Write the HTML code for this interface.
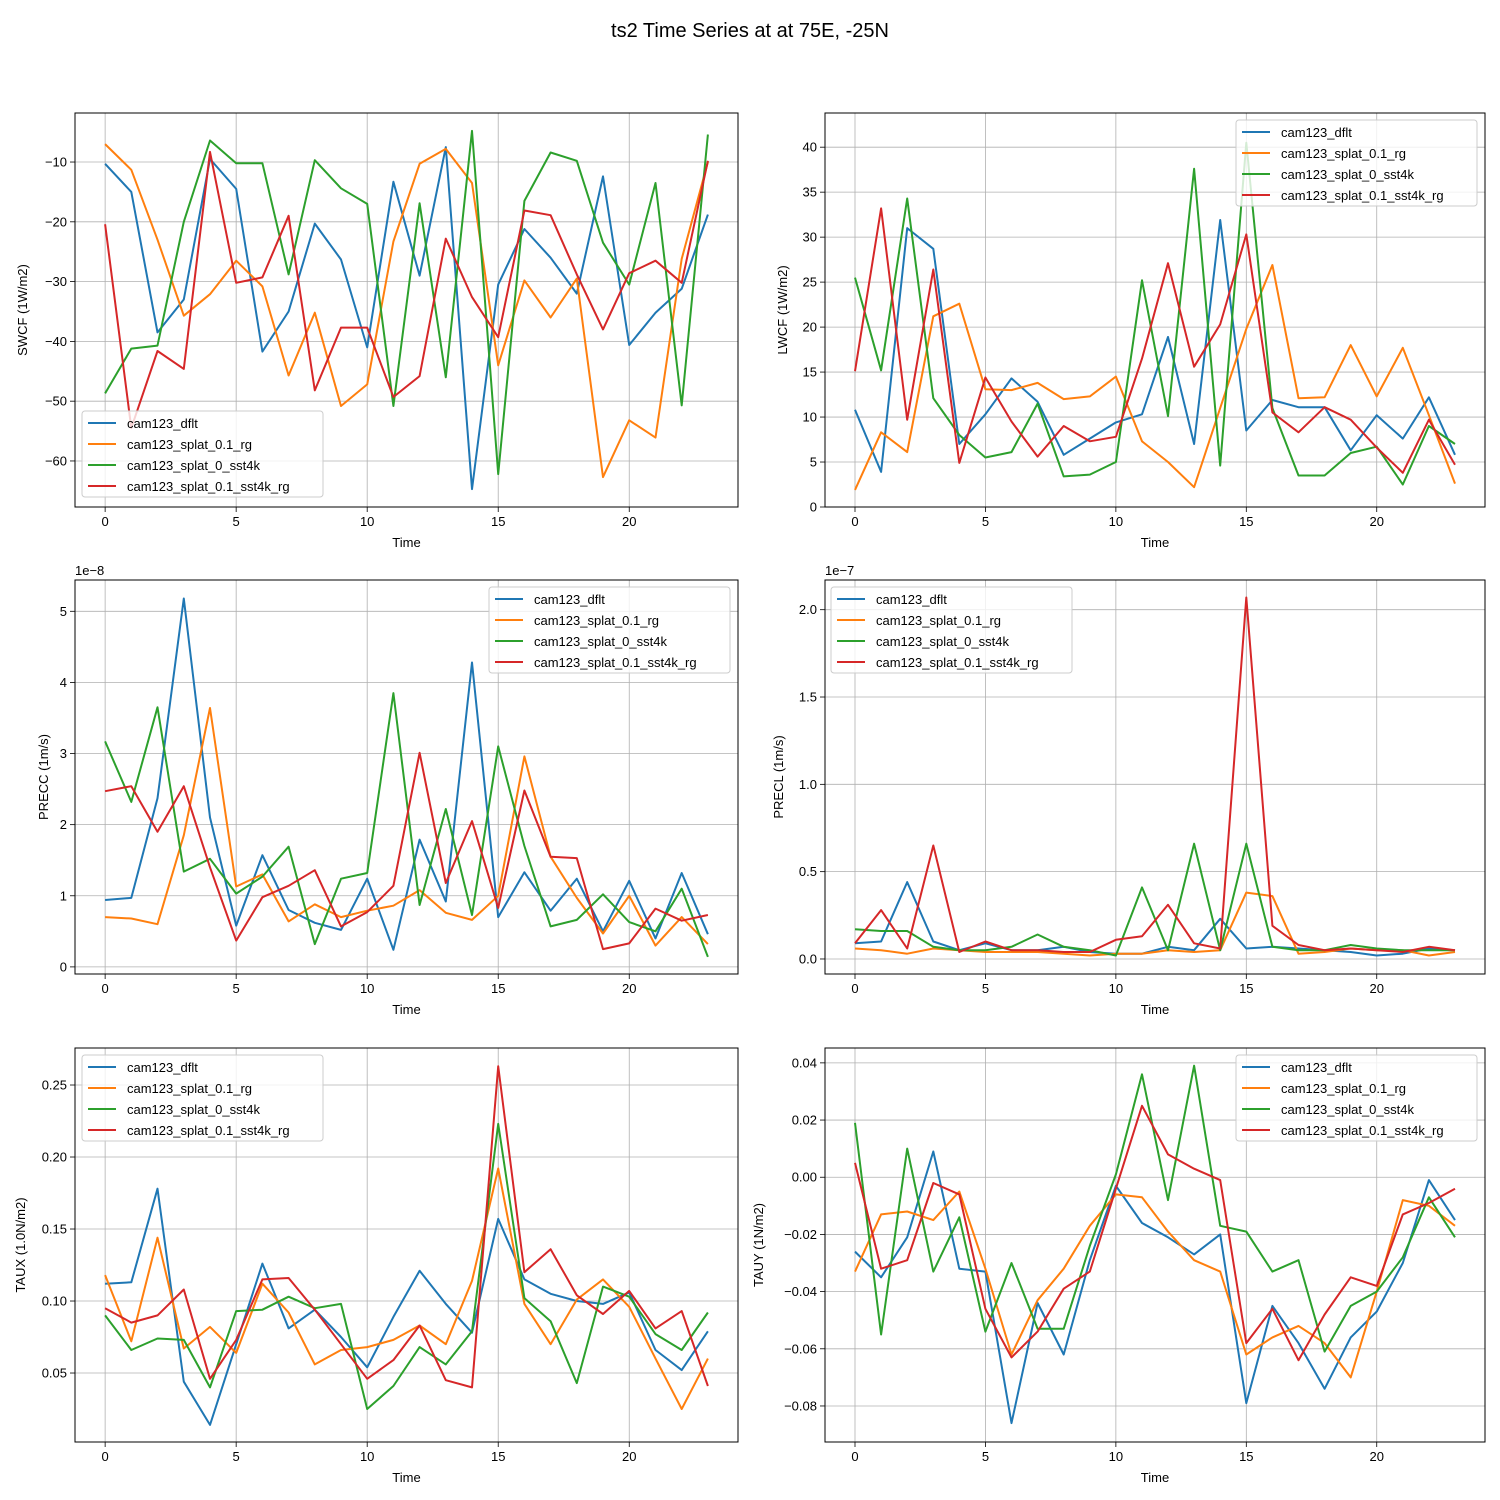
<!DOCTYPE html>
<html><head><meta charset="utf-8"><style>
html,body{margin:0;padding:0;background:#fff;}
svg{display:block;font-family:"Liberation Sans","DejaVu Sans",sans-serif;}
</style></head><body>
<svg id="fig" width="1500" height="1500" viewBox="0 0 1500 1500">
<text x="750" y="37" text-anchor="middle" font-size="20">ts2 Time Series at at 75E, -25N</text>
</svg>
<script>
const timeSteps = [0,1,2,3,4,5,6,7,8,9,10,11,12,13,14,15,16,17,18,19,20,21,22,23];
const seriesNames = ["cam123_dflt","cam123_splat_0.1_rg","cam123_splat_0_sst4k","cam123_splat_0.1_sst4k_rg"];
const colors = ["#1f77b4","#ff7f0e","#2ca02c","#d62728"];
const xTicks = [0,5,10,15,20];

const swcfDflt = [-10.3,-15,-38.5,-33,-9.5,-14.5,-41.7,-35,-20.3,-26.3,-41,-13.3,-29,-7.5,-64.7,-30.5,-21.2,-26,-32,-12.4,-40.6,-35.2,-31.2,-18.8];
const swcfRg = [-7,-11.3,-23,-35.7,-32.1,-26.5,-30.8,-45.7,-35.2,-50.8,-47.2,-23.3,-10.3,-7.8,-13.5,-44,-29.8,-36,-29.5,-62.7,-53.2,-56.1,-26.2,-10];
const swcfSst4k = [-48.7,-41.2,-40.7,-20,-6.4,-10.2,-10.2,-28.8,-9.7,-14.4,-17,-50.8,-16.9,-46,-4.8,-62.2,-16.5,-8.4,-9.8,-23.5,-30.5,-13.5,-50.7,-5.4];
const swcfSst4kRg = [-20.4,-54.5,-41.6,-44.6,-8.3,-30.2,-29.3,-19,-48.2,-37.7,-37.7,-49.3,-45.8,-22.8,-32.6,-39.3,-18.1,-18.9,-28.8,-38,-28.6,-26.5,-30.2,-9.8];
const swcfTicks = [-60,-50,-40,-30,-20,-10];

const lwcfDflt = [10.8,3.9,31,28.7,7,10.3,14.3,11.7,5.8,7.6,9.4,10.3,18.9,7,31.9,8.5,11.9,11.1,11.1,6.3,10.2,7.6,12.2,5.8];
const lwcfRg = [1.9,8.3,6.1,21.2,22.6,13.1,13,13.8,12,12.3,14.5,7.3,5,2.2,11,19.8,26.9,12.1,12.2,18,12.3,17.7,10.2,2.6];
const lwcfSst4k = [25.5,15.2,34.3,12.1,8,5.5,6.1,11.5,3.4,3.6,5,25.2,10.1,37.6,4.6,40.5,11,3.5,3.5,6,6.7,2.5,9,7];
const lwcfSst4kRg = [15.1,33.2,9.7,26.4,4.9,14.4,9.5,5.6,9,7.3,7.8,16.5,27.1,15.6,20.3,30.3,10.5,8.3,11.1,9.7,6.6,3.8,9.7,4.7];
const lwcfTicks = [0,5,10,15,20,25,30,35,40];

const preccDflt = [.94,.97,2.37,5.18,2.1,.58,1.57,.8,.62,.52,1.24,.24,1.79,.92,4.28,.7,1.33,.79,1.24,.5,1.21,.4,1.32,.46];
const preccRg = [.7,.68,.6,1.85,3.64,1.13,1.3,.64,.88,.7,.79,.86,1.08,.76,.66,1.0,2.96,1.55,.97,.47,1.0,.3,.7,.32];
const preccSst4k = [3.17,2.32,3.65,1.34,1.52,1.03,1.27,1.69,.32,1.24,1.32,3.85,.87,2.22,.73,3.1,1.7,.57,.66,1.02,.63,.5,1.1,.14];
const preccSst4kRg = [2.47,2.54,1.9,2.54,1.4,.37,.98,1.14,1.36,.57,.77,1.14,3.01,1.18,2.05,.83,2.48,1.55,1.53,.25,.33,.82,.65,.73];
const preccTicks = [0,1,2,3,4,5];

const preclDflt = [.09,.1,.44,.1,.05,.09,.05,.05,.07,.04,.03,.03,.07,.05,.23,.06,.07,.06,.05,.04,.02,.03,.06,.05];
const preclRg = [.06,.05,.03,.06,.05,.04,.04,.04,.03,.02,.03,.03,.05,.04,.05,.38,.36,.03,.04,.06,.05,.05,.02,.04];
const preclSst4k = [.17,.16,.16,.07,.05,.05,.07,.14,.07,.05,.02,.41,.05,.66,.05,.66,.07,.05,.05,.08,.06,.05,.05,.05];
const preclSst4kRg = [.09,.28,.06,.65,.04,.1,.05,.05,.04,.04,.11,.13,.31,.09,.06,2.07,.19,.08,.05,.06,.05,.04,.07,.05];
const preclTicks = [0,0.5,1.0,1.5,2.0];
const preclTickLabels = ["0.0","0.5","1.0","1.5","2.0"];

const tauxDflt = [.112,.113,.178,.044,.014,.07,.126,.081,.094,.075,.054,.089,.121,.098,.078,.157,.115,.105,.1,.098,.106,.066,.052,.079];
const tauxRg = [.118,.072,.144,.067,.082,.064,.112,.092,.056,.066,.068,.073,.083,.07,.114,.192,.098,.07,.101,.115,.096,.06,.025,.06];
const tauxSst4k = [.09,.066,.074,.073,.04,.093,.094,.103,.095,.098,.025,.041,.068,.056,.079,.223,.102,.086,.043,.11,.103,.077,.066,.092];
const tauxSst4kRg = [.095,.085,.09,.108,.046,.073,.115,.116,.094,.07,.046,.059,.083,.045,.04,.263,.12,.136,.104,.091,.107,.081,.093,.041];
const tauxTicks = [0.05,0.10,0.15,0.20,0.25];
const tauxTickLabels = ["0.05","0.10","0.15","0.20","0.25"];

const tauyDflt = [-.026,-.035,-.021,.009,-.032,-.033,-.086,-.044,-.062,-.029,-.003,-.016,-.021,-.027,-.02,-.079,-.045,-.058,-.074,-.056,-.047,-.03,-.001,-.015];
const tauyRg = [-.033,-.013,-.012,-.015,-.005,-.032,-.062,-.043,-.032,-.017,-.006,-.007,-.019,-.029,-.033,-.062,-.056,-.052,-.058,-.07,-.04,-.008,-.01,-.017];
const tauySst4k = [.019,-.055,.01,-.033,-.014,-.054,-.03,-.053,-.053,-.024,.001,.036,-.008,.039,-.017,-.019,-.033,-.029,-.061,-.045,-.04,-.028,-.007,-.021];
const tauySst4kRg = [.005,-.032,-.029,-.002,-.006,-.046,-.063,-.054,-.039,-.033,-.004,.025,.008,.003,-.001,-.058,-.046,-.064,-.048,-.035,-.038,-.013,-.009,-.004];
const tauyTicks = [-0.08,-0.06,-0.04,-0.02,0,0.02,0.04];
const tauyTickLabels = ["−0.08","−0.06","−0.04","−0.02","0.00","0.02","0.04"];

const NS="http://www.w3.org/2000/svg";
const fig=document.getElementById('fig');
function mk(tag,attrs,parent){const e=document.createElementNS(NS,tag);for(const k in attrs)e.setAttribute(k,attrs[k]);(parent||fig).appendChild(e);return e;}

function panel(o){
  const g=mk('g',{});
  
  
  const xs=v=>o.x0+(v-(-1.15))/(24.15-(-1.15))*(o.x1-o.x0);
  const ys=v=>o.y1-(v-o.ymin)/(o.ymax-o.ymin)*(o.y1-o.y0);
  // grid
  xTicks.forEach(t=>{
    const l=mk('line',{x1:xs(t),x2:xs(t),y1:o.y0,y2:o.y1,stroke:'#b0b0b0','stroke-width':0.8},g);
    
    
    mk('line',{x1:xs(t),x2:xs(t),y1:o.y1,y2:o.y1+5,stroke:'#000','stroke-width':0.8},g);
    const tx=mk('text',{x:xs(t),y:o.y1+19,'text-anchor':'middle','font-size':13},g);
    tx.textContent=t;
    
    
  });
  o.ticks.forEach((t,i)=>{
    const l=mk('line',{x1:o.x0,x2:o.x1,y1:ys(t),y2:ys(t),stroke:'#b0b0b0','stroke-width':0.8},g);
    
    
    mk('line',{x1:o.x0-5,x2:o.x0,y1:ys(t),y2:ys(t),stroke:'#000','stroke-width':0.8},g);
    const tx=mk('text',{x:o.x0-8,y:ys(t)+4.5,'text-anchor':'end','font-size':13},g);
    tx.textContent=o.labels?o.labels[i]:String(t).replace('-','−');
    
    
  });
  // series
  o.series.forEach((s,si)=>{
    const p=mk('polyline',{points:s.map((v,i)=>xs(timeSteps[i]).toFixed(1)+','+ys(v).toFixed(1)).join(' '),fill:'none',stroke:colors[si],'stroke-width':2,'stroke-linejoin':'round'},g);
    
    
  });
  const fr=mk('rect',{x:o.x0,y:o.y0,width:o.x1-o.x0,height:o.y1-o.y0,fill:'none',stroke:'#000','stroke-width':1},g);
  
  
  const xl=mk('text',{x:(o.x0+o.x1)/2,y:o.y1+40,'text-anchor':'middle','font-size':13},g);
  xl.textContent='Time';
  
  
  const cy=(o.y0+o.y1)/2;
  const yl=mk('text',{x:o.ylx,y:cy,'text-anchor':'middle','font-size':13,transform:'rotate(-90 '+o.ylx+' '+cy+')'},g);
  yl.textContent=o.ylabel;
  
  
  if(o.offset){
    const ot=mk('text',{x:o.x0,y:o.y0-5,'font-size':13},g);
    ot.textContent=o.offset;
    
    
  }
  // legend
  const lg=mk('g',{},g);
  
  
  mk('rect',{x:o.lx,y:o.ly,width:241,height:86,rx:3,fill:'#fff','fill-opacity':0.8,stroke:'#ccc','stroke-width':1},lg);
  seriesNames.forEach((n,i)=>{
    const e=mk('g',{},lg);
    
    
    const yy=o.ly+12+i*21;
    mk('line',{x1:o.lx+6,x2:o.lx+34,y1:yy,y2:yy,stroke:colors[i],'stroke-width':2},e);
    const t=mk('text',{x:o.lx+45,y:yy+5,'font-size':13},e);
    t.textContent=n;
  });
}

panel({key:'swcf',x0:75,x1:738,y0:113,y1:507,ymin:-67.7,ymax:-1.8,ticks:swcfTicks,series:[swcfDflt,swcfRg,swcfSst4k,swcfSst4kRg],ylabel:'SWCF (1W/m2)',ylx:27,lx:82,ly:411});
panel({key:'lwcf',x0:825,x1:1485,y0:113,y1:507,ymin:0,ymax:43.8,ticks:lwcfTicks,series:[lwcfDflt,lwcfRg,lwcfSst4k,lwcfSst4kRg],ylabel:'LWCF (1W/m2)',ylx:787,lx:1236,ly:120});
panel({key:'precc',x0:75,x1:738,y0:580,y1:974,ymin:-0.1,ymax:5.44,ticks:preccTicks,series:[preccDflt,preccRg,preccSst4k,preccSst4kRg],ylabel:'PRECC (1m/s)',ylx:48,offset:'1e−8',lx:489,ly:587});
panel({key:'precl',x0:825,x1:1485,y0:580,y1:974,ymin:-0.086,ymax:2.17,ticks:preclTicks,labels:preclTickLabels,series:[preclDflt,preclRg,preclSst4k,preclSst4kRg],ylabel:'PRECL (1m/s)',ylx:783,offset:'1e−7',lx:831,ly:587});
panel({key:'taux',x0:75,x1:738,y0:1048,y1:1442,ymin:0.0021,ymax:0.2757,ticks:tauxTicks,labels:tauxTickLabels,series:[tauxDflt,tauxRg,tauxSst4k,tauxSst4kRg],ylabel:'TAUX (1.0N/m2)',ylx:25,lx:82,ly:1055});
panel({key:'tauy',x0:825,x1:1485,y0:1048,y1:1442,ymin:-0.0926,ymax:0.0452,ticks:tauyTicks,labels:tauyTickLabels,series:[tauyDflt,tauyRg,tauySst4k,tauySst4kRg],ylabel:'TAUY (1N/m2)',ylx:763,lx:1236,ly:1055});
</script>
</body></html>
